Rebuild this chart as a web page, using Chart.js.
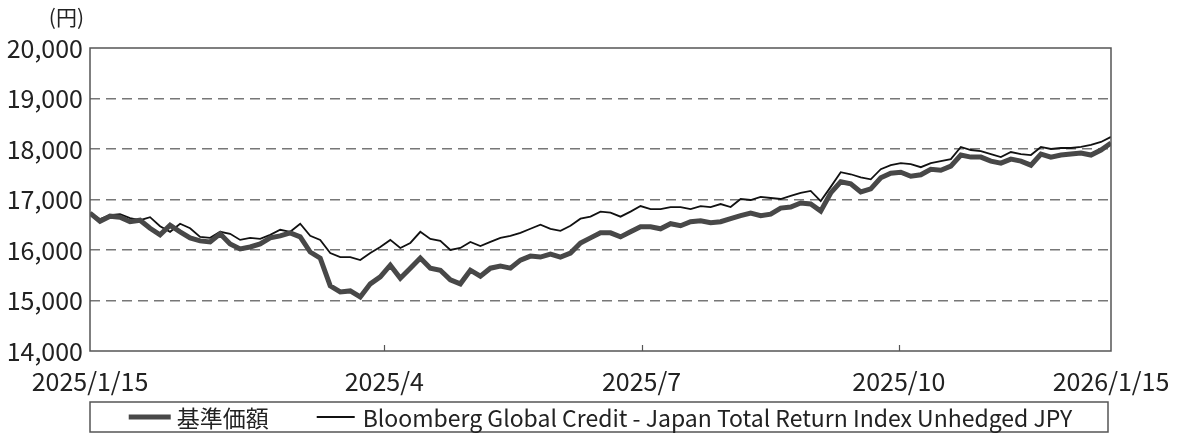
<!DOCTYPE html>
<html>
<head>
<meta charset="utf-8">
<script src="https://cdn.jsdelivr.net/npm/chart.js@4/dist/chart.umd.min.js"></script>
<style>
  html, body { margin: 0; padding: 0; background: #fff; }
  #wrap { width: 1184px; height: 434px; }
</style>
</head>
<body>
<div id="wrap"><canvas id="chart"></canvas></div>
<script>
// データ（2025/1/15〜2026/1/15、ほぼ等間隔のサンプル）
const tickLabels = ['2025/1/15', '2025/4', '2025/7', '2025/10', '2026/1/15']
const tickPos = [0, 29.4, 55.1, 80.8, 102]

const fund = [
  16730, 16570, 16670, 16650, 16560, 16590, 16430, 16300, 16490, 16360,
  16240, 16180, 16160, 16320, 16120, 16020, 16060, 16120, 16240, 16280,
  16340, 16260, 15960, 15840, 15290, 15170, 15190, 15070, 15330, 15470,
  15700, 15440, 15640, 15840, 15640, 15600, 15410, 15330, 15600, 15480,
  15640, 15680, 15640, 15800, 15880, 15860, 15920, 15860, 15940, 16140,
  16240, 16340, 16340, 16260, 16360, 16460, 16460, 16420, 16520, 16480,
  16560, 16580, 16540, 16560, 16620, 16680, 16730, 16680, 16710, 16830,
  16850, 16930, 16910, 16770, 17130, 17350, 17310, 17150, 17210, 17430,
  17520, 17540, 17460, 17490, 17600, 17580, 17660, 17880, 17840, 17840,
  17760, 17720, 17800, 17760, 17680, 17900, 17840, 17880, 17900, 17920,
  17880, 17980, 18120
]

const bench = [
  16730, 16610, 16690, 16710, 16630, 16590, 16650, 16470, 16360, 16520,
  16430, 16260, 16240, 16360, 16320, 16200, 16240, 16220, 16300, 16400,
  16360, 16520, 16280, 16200, 15940, 15860, 15860, 15800, 15940, 16060,
  16200, 16040, 16140, 16360, 16220, 16180, 16000, 16040, 16160, 16080,
  16160, 16240, 16280, 16340, 16420, 16500, 16420, 16380, 16480, 16620,
  16660, 16760, 16740, 16660, 16760, 16870, 16810, 16810, 16850, 16850,
  16810, 16870, 16850, 16910, 16850, 17010, 16990, 17050, 17030, 17010,
  17070, 17130, 17170, 16970, 17250, 17540, 17500, 17440, 17400, 17600,
  17680, 17720, 17700, 17640, 17720, 17760, 17800, 18040, 17980, 17960,
  17900, 17840, 17940, 17900, 17880, 18040, 18000, 18020, 18020, 18040,
  18080, 18140, 18240
]

const FONT = '"Noto Sans CJK JP", "Noto Sans", sans-serif'

// 枠線・目盛り・凡例・(円) を描く
const framePlugin = {
  id: 'frame',
  afterDraw(chart) {
    const { ctx, chartArea: a, scales } = chart
    ctx.save()
    ctx.strokeStyle = '#555'
    ctx.lineWidth = 1.5
    ctx.strokeRect(a.left, a.top, a.right - a.left, a.bottom - a.top)

    // 内向きの小さな目盛り
    ctx.lineWidth = 1.2
    tickPos.slice(1, -1).forEach(v => {
      const x = Math.round(scales.x.getPixelForValue(v)) + 0.5
      ctx.beginPath()
      ctx.moveTo(x, a.bottom)
      ctx.lineTo(x, a.bottom - 6)
      ctx.stroke()
    })

    // 凡例
    const top = a.bottom + 51
    const h = 30
    ctx.lineWidth = 1.5
    ctx.strokeStyle = '#555'
    ctx.strokeRect(a.left, top, a.right - a.left - 3, h)

    ctx.font = '23px ' + FONT
    ctx.textBaseline = 'middle'
    ctx.textAlign = 'left'
    const ds = chart.data.datasets
    const lens = [42, 38]
    const gaps = [6, 8]
    const widths = ds.map((d, i) => lens[i] + gaps[i] + ctx.measureText(d.label).width)
    const total = widths[0] + 48 + widths[1]
    let x = (a.left + a.right) / 2 - total / 2
    const yMid = top + h / 2
    ds.forEach((d, i) => {
      ctx.strokeStyle = d.borderColor
      ctx.lineWidth = d.borderWidth
      ctx.beginPath()
      ctx.moveTo(x, yMid)
      ctx.lineTo(x + lens[i], yMid)
      ctx.stroke()
      ctx.fillStyle = '#222'
      ctx.fillText(d.label, x + lens[i] + gaps[i], yMid + 1)
      x += widths[i] + 48
    })

    ctx.fillStyle = '#222'
    ctx.font = '21px ' + FONT
    ctx.textAlign = 'right'
    ctx.fillText('(円)', 84, 17)
    ctx.restore()
  }
}

new Chart(document.getElementById('chart'), {
  type: 'line',
  data: {
    datasets: [
      {
        label: '基準価額',
        data: fund.map((v, i) => ({ x: i, y: v })),
        borderColor: '#484848',
        borderWidth: 5,
        pointRadius: 0,
        tension: 0
      },
      {
        label: 'Bloomberg Global Credit - Japan Total Return Index Unhedged JPY',
        data: bench.map((v, i) => ({ x: i, y: v })),
        borderColor: '#111',
        borderWidth: 1.8,
        pointRadius: 0,
        tension: 0
      }
    ]
  },
  options: {
    responsive: true,
    maintainAspectRatio: false,
    animation: false,
    layout: { padding: { top: 48, right: 73, bottom: 33, left: 0 } },
    scales: {
      x: {
        type: 'linear',
        min: 0,
        max: 102,
        afterBuildTicks: s => { s.ticks = tickPos.map(v => ({ value: v })) },
        afterFit: s => { s.height = 50 },
        grid: { display: false },
        border: { display: false },
        ticks: {
          autoSkip: false,
          maxRotation: 0,
          padding: 7,
          color: '#222',
          font: { family: FONT, size: 25 },
          callback: (v, i) => tickLabels[i]
        }
      },
      y: {
        min: 14000,
        max: 20000,
        afterFit: s => { s.width = 90 },
        grid: {
          drawTicks: false,
          lineWidth: 1.5,
          color: c => (c.tick.value === 14000 || c.tick.value === 20000) ? 'rgba(0,0,0,0)' : '#777'
        },
        border: { display: false, dash: [10, 6] },
        ticks: {
          stepSize: 1000,
          padding: 7,
          color: '#222',
          font: { family: FONT, size: 25 },
          callback: v => v.toLocaleString('en-US')
        }
      }
    },
    plugins: {
      legend: { display: false },
      tooltip: { enabled: false }
    }
  },
  plugins: [framePlugin]
})
</script>
</body>
</html>
